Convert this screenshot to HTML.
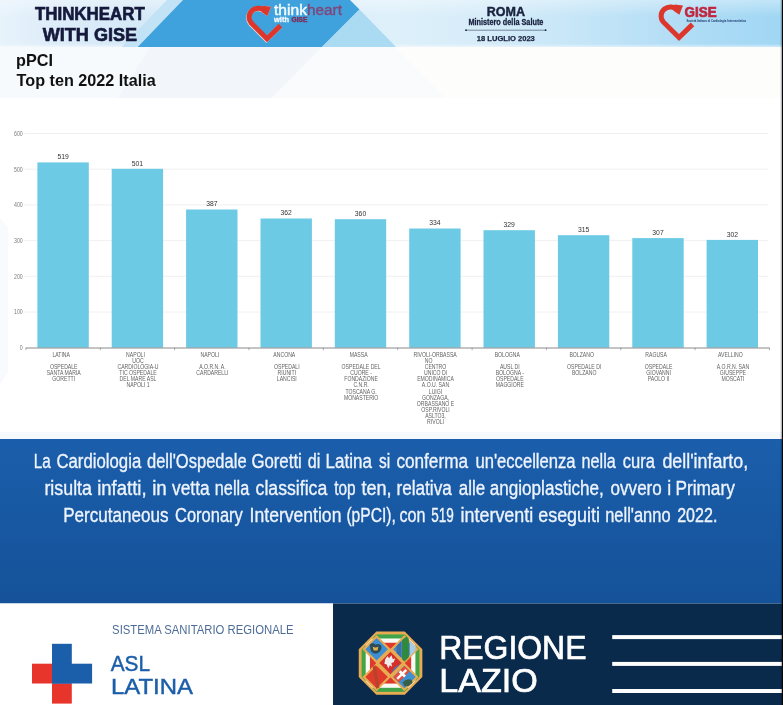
<!DOCTYPE html>
<html lang="it"><head><meta charset="utf-8"><title>pPCI Top ten 2022 Italia</title>
<style>
html,body{margin:0;padding:0;background:#fff;}
body{width:783px;height:705px;overflow:hidden;font-family:"Liberation Sans",sans-serif;}
svg{display:block;}
text{font-family:"Liberation Sans",sans-serif;}
</style></head><body>
<svg width="783" height="705" viewBox="0 0 783 705">
<defs>
<linearGradient id="hdr" x1="0" y1="0" x2="1" y2="0">
<stop offset="0" stop-color="#e8f3fb"/><stop offset="0.06" stop-color="#deedf9"/><stop offset="0.17" stop-color="#d5e9f7"/><stop offset="0.5" stop-color="#def0fa"/><stop offset="0.62" stop-color="#d6ecf9"/><stop offset="0.78" stop-color="#c0e3f7"/><stop offset="0.9" stop-color="#addbf5"/><stop offset="1" stop-color="#a0d7f4"/>
</linearGradient>
<linearGradient id="hdrv" x1="0" y1="0" x2="0" y2="1">
<stop offset="0" stop-color="#ffffff" stop-opacity="0.35"/><stop offset="0.35" stop-color="#ffffff" stop-opacity="0"/><stop offset="0.93" stop-color="#ffffff" stop-opacity="0"/><stop offset="1" stop-color="#ffffff" stop-opacity="0.5"/>
</linearGradient>
<linearGradient id="band" x1="0" y1="0" x2="0" y2="1">
<stop offset="0" stop-color="#1b5eab"/><stop offset="1" stop-color="#155299"/>
</linearGradient>
<clipPath id="oct"><polygon points="376.3,631.5 404.8,631.5 422.4,649.3 422.4,677 404.8,694.8 376.3,694.8 358.7,677 358.7,649.3"/></clipPath>
</defs>
<rect width="783" height="705" fill="#ffffff"/>

<g id="header">
<rect x="0" y="0" width="783" height="47" fill="url(#hdr)"/>
<rect x="0" y="0" width="783" height="47" fill="url(#hdrv)"/>
<polygon points="167,0 183,0 137.7,47 121.7,47" fill="#c2e2f6"/>
<polygon points="183,0 350,0 359.5,9.5 322,47 137.7,47" fill="#3fa2dc"/>
<polygon points="359.5,9.5 396,47 322,47" fill="#abdaf3"/>
<text x="35" y="20.4" font-size="19" font-weight="700" fill="#151a3c" stroke="#151a3c" stroke-width="0.7" textLength="109.7" lengthAdjust="spacingAndGlyphs">THINKHEART</text>
<text x="42.8" y="40.9" font-size="19" font-weight="700" fill="#151a3c" stroke="#151a3c" stroke-width="0.7" textLength="94.2" lengthAdjust="spacingAndGlyphs">WITH GISE</text>
<g transform="translate(240,1.2)"><path transform="translate(-0.5,0.6)" d="M25.6,10.2 A9.2 9 0 1 0 11.3,21.9 L27,37.6 L40.5,24.4" fill="none" stroke="#f3d6d0" stroke-width="5" stroke-linejoin="miter" stroke-linecap="butt"/><polygon points="22.5,4.6 31,5.6 27.4,14.8 21.5,10.8" fill="#f3d6d0"/><path d="M25.6,10.2 A9.2 9 0 1 0 11.3,21.9 L27,37.6 L40.5,24.4" fill="none" stroke="#dc372d" stroke-width="5" stroke-linejoin="miter" stroke-linecap="butt"/><polygon points="22.5,4.6 31,5.6 27.4,14.8 21.5,10.8" fill="#dc372d"/></g>
<text x="274" y="14.6" font-size="14" fill="#f4fbff" stroke="#f4fbff" stroke-width="0.45" textLength="33" lengthAdjust="spacingAndGlyphs">think</text>
<text x="307" y="14.6" font-size="14" fill="#80467a" stroke="#80467a" stroke-width="0.35" textLength="35" lengthAdjust="spacingAndGlyphs">heart</text>
<text x="274" y="22.3" font-size="6.6" font-weight="700" fill="#eef8ff" stroke="#eef8ff" stroke-width="0.3" textLength="15" lengthAdjust="spacingAndGlyphs">with</text>
<text x="291.6" y="22.2" font-size="6.6" font-weight="700" fill="#7c2f5c" stroke="#7c2f5c" stroke-width="0.4" textLength="15.8" lengthAdjust="spacingAndGlyphs">GISE</text>
<text x="486.8" y="15.8" font-size="13" font-weight="700" fill="#19223f" stroke="#19223f" stroke-width="0.45" textLength="38.2" lengthAdjust="spacingAndGlyphs">ROMA</text>
<text x="468.4" y="25" font-size="8.2" font-weight="700" fill="#19223f" stroke="#19223f" stroke-width="0.3" textLength="75" lengthAdjust="spacingAndGlyphs">Ministero della Salute</text>
<line x1="466" y1="30.2" x2="545.6" y2="30.2" stroke="#19223f" stroke-width="0.5"/>
<circle cx="466" cy="30.2" r="0.9" fill="#19223f"/><circle cx="545.6" cy="30.2" r="0.9" fill="#19223f"/>
<text x="476.8" y="41.4" font-size="7.6" font-weight="700" fill="#19223f" stroke="#19223f" stroke-width="0.25" textLength="58" lengthAdjust="spacingAndGlyphs">18 LUGLIO 2023</text>
<g transform="translate(652,0)"><path d="M25.6,10.2 A9.2 9 0 1 0 11.3,21.9 L27,37.6 L40.5,24.4" fill="none" stroke="#dc372d" stroke-width="5" stroke-linejoin="miter" stroke-linecap="butt"/><polygon points="22.5,4.6 31,5.6 27.4,14.8 21.5,10.8" fill="#dc372d"/></g>
<text x="684.6" y="16.6" font-size="14.4" font-weight="700" fill="#c0263f" stroke="#c0263f" stroke-width="0.7" textLength="32" lengthAdjust="spacingAndGlyphs">GISE</text>
<text x="686.4" y="21.8" font-size="3.6" font-weight="700" fill="#1d3a70" textLength="59.8" lengthAdjust="spacingAndGlyphs">Società Italiana di Cardiologia Interventistica</text>
</g>
<g id="title">
<rect x="0" y="47" width="783" height="51" fill="#fdfdfb"/>
<polygon points="0,47 322,47 272,98 0,98" fill="#f7fafd"/>
<polygon points="150,47 322,47 272,98 118,98" fill="#f2f6fb"/>
<polygon points="322,47 395,47 446,98 272,98" fill="#f9fbfd"/>
<text x="16" y="66" font-size="16.2" font-weight="700" fill="#111111">pPCI</text>
<text x="16.6" y="85.8" font-size="16.2" font-weight="700" fill="#111111">Top ten 2022 Italia</text>
</g>
<g id="chart">
<text transform="translate(22.8,350.0) scale(0.82,1)" font-size="6.4" fill="#7a7a7a" text-anchor="end">0</text>
<line x1="24.5" y1="312.0" x2="768" y2="312.0" stroke="#ececec" stroke-width="0.8"/>
<text transform="translate(22.8,314.3) scale(0.82,1)" font-size="6.4" fill="#7a7a7a" text-anchor="end">100</text>
<line x1="24.5" y1="276.3" x2="768" y2="276.3" stroke="#ececec" stroke-width="0.8"/>
<text transform="translate(22.8,278.6) scale(0.82,1)" font-size="6.4" fill="#7a7a7a" text-anchor="end">200</text>
<line x1="24.5" y1="240.6" x2="768" y2="240.6" stroke="#ececec" stroke-width="0.8"/>
<text transform="translate(22.8,242.9) scale(0.82,1)" font-size="6.4" fill="#7a7a7a" text-anchor="end">300</text>
<line x1="24.5" y1="204.9" x2="768" y2="204.9" stroke="#ececec" stroke-width="0.8"/>
<text transform="translate(22.8,207.2) scale(0.82,1)" font-size="6.4" fill="#7a7a7a" text-anchor="end">400</text>
<line x1="24.5" y1="169.2" x2="768" y2="169.2" stroke="#ececec" stroke-width="0.8"/>
<text transform="translate(22.8,171.5) scale(0.82,1)" font-size="6.4" fill="#7a7a7a" text-anchor="end">500</text>
<line x1="24.5" y1="133.5" x2="768" y2="133.5" stroke="#ececec" stroke-width="0.8"/>
<text transform="translate(22.8,135.8) scale(0.82,1)" font-size="6.4" fill="#7a7a7a" text-anchor="end">600</text>
<rect x="37.4" y="162.4" width="51.4" height="185.3" fill="#6ccae5"/>
<text transform="translate(63.1,159.2) scale(0.85,1)" font-size="8" fill="#333333" text-anchor="middle">519</text>
<rect x="111.7" y="168.8" width="51.4" height="178.9" fill="#6ccae5"/>
<text transform="translate(137.4,165.6) scale(0.85,1)" font-size="8" fill="#333333" text-anchor="middle">501</text>
<rect x="186.1" y="209.5" width="51.4" height="138.2" fill="#6ccae5"/>
<text transform="translate(211.8,206.3) scale(0.85,1)" font-size="8" fill="#333333" text-anchor="middle">387</text>
<rect x="260.5" y="218.5" width="51.4" height="129.2" fill="#6ccae5"/>
<text transform="translate(286.2,215.3) scale(0.85,1)" font-size="8" fill="#333333" text-anchor="middle">362</text>
<rect x="334.8" y="219.2" width="51.4" height="128.5" fill="#6ccae5"/>
<text transform="translate(360.5,216.0) scale(0.85,1)" font-size="8" fill="#333333" text-anchor="middle">360</text>
<rect x="409.2" y="228.5" width="51.4" height="119.2" fill="#6ccae5"/>
<text transform="translate(434.9,225.3) scale(0.85,1)" font-size="8" fill="#333333" text-anchor="middle">334</text>
<rect x="483.5" y="230.2" width="51.4" height="117.5" fill="#6ccae5"/>
<text transform="translate(509.2,227.0) scale(0.85,1)" font-size="8" fill="#333333" text-anchor="middle">329</text>
<rect x="557.9" y="235.2" width="51.4" height="112.5" fill="#6ccae5"/>
<text transform="translate(583.6,232.0) scale(0.85,1)" font-size="8" fill="#333333" text-anchor="middle">315</text>
<rect x="632.3" y="238.1" width="51.4" height="109.6" fill="#6ccae5"/>
<text transform="translate(658.0,234.9) scale(0.85,1)" font-size="8" fill="#333333" text-anchor="middle">307</text>
<rect x="706.6" y="239.9" width="51.4" height="107.8" fill="#6ccae5"/>
<text transform="translate(732.3,236.7) scale(0.85,1)" font-size="8" fill="#333333" text-anchor="middle">302</text>
<line x1="25.9" y1="348.0" x2="769.5" y2="348.0" stroke="#8a8a8a" stroke-width="1"/>
<line x1="25.9" y1="347.7" x2="25.9" y2="350.2" stroke="#8a8a8a" stroke-width="0.7"/>
<line x1="100.3" y1="347.7" x2="100.3" y2="350.2" stroke="#8a8a8a" stroke-width="0.7"/>
<line x1="174.6" y1="347.7" x2="174.6" y2="350.2" stroke="#8a8a8a" stroke-width="0.7"/>
<line x1="249.0" y1="347.7" x2="249.0" y2="350.2" stroke="#8a8a8a" stroke-width="0.7"/>
<line x1="323.3" y1="347.7" x2="323.3" y2="350.2" stroke="#8a8a8a" stroke-width="0.7"/>
<line x1="397.7" y1="347.7" x2="397.7" y2="350.2" stroke="#8a8a8a" stroke-width="0.7"/>
<line x1="472.1" y1="347.7" x2="472.1" y2="350.2" stroke="#8a8a8a" stroke-width="0.7"/>
<line x1="546.4" y1="347.7" x2="546.4" y2="350.2" stroke="#8a8a8a" stroke-width="0.7"/>
<line x1="620.8" y1="347.7" x2="620.8" y2="350.2" stroke="#8a8a8a" stroke-width="0.7"/>
<line x1="695.1" y1="347.7" x2="695.1" y2="350.2" stroke="#8a8a8a" stroke-width="0.7"/>
<line x1="769.5" y1="347.7" x2="769.5" y2="350.2" stroke="#8a8a8a" stroke-width="0.7"/>
<text transform="translate(61.2,356.9) scale(0.79,1)" font-size="6.5" fill="#626262" text-anchor="middle">LATINA</text>
<text transform="translate(63.7,369.1) scale(0.79,1)" font-size="6.5" fill="#626262" text-anchor="middle">OSPEDALE</text>
<text transform="translate(63.7,375.2) scale(0.79,1)" font-size="6.5" fill="#626262" text-anchor="middle">SANTA MARIA</text>
<text transform="translate(63.7,381.3) scale(0.79,1)" font-size="6.5" fill="#626262" text-anchor="middle">GORETTI</text>
<text transform="translate(135.5,356.9) scale(0.79,1)" font-size="6.5" fill="#626262" text-anchor="middle">NAPOLI</text>
<text transform="translate(138.0,363.0) scale(0.79,1)" font-size="6.5" fill="#626262" text-anchor="middle">UOC</text>
<text transform="translate(138.0,369.1) scale(0.79,1)" font-size="6.5" fill="#626262" text-anchor="middle">CARDIOLOGIA-U</text>
<text transform="translate(138.0,375.2) scale(0.79,1)" font-size="6.5" fill="#626262" text-anchor="middle">TIC OSPEDALE</text>
<text transform="translate(138.0,381.3) scale(0.79,1)" font-size="6.5" fill="#626262" text-anchor="middle">DEL MARE ASL</text>
<text transform="translate(138.0,387.4) scale(0.79,1)" font-size="6.5" fill="#626262" text-anchor="middle">NAPOLI 1</text>
<text transform="translate(209.9,356.9) scale(0.79,1)" font-size="6.5" fill="#626262" text-anchor="middle">NAPOLI</text>
<text transform="translate(212.4,369.1) scale(0.79,1)" font-size="6.5" fill="#626262" text-anchor="middle">A.O.R.N. A.</text>
<text transform="translate(212.4,375.2) scale(0.79,1)" font-size="6.5" fill="#626262" text-anchor="middle">CARDARELLI</text>
<text transform="translate(284.3,356.9) scale(0.79,1)" font-size="6.5" fill="#626262" text-anchor="middle">ANCONA</text>
<text transform="translate(286.8,369.1) scale(0.79,1)" font-size="6.5" fill="#626262" text-anchor="middle">OSPEDALI</text>
<text transform="translate(286.8,375.2) scale(0.79,1)" font-size="6.5" fill="#626262" text-anchor="middle">RIUNITI</text>
<text transform="translate(286.8,381.3) scale(0.79,1)" font-size="6.5" fill="#626262" text-anchor="middle">LANCISI</text>
<text transform="translate(358.6,356.9) scale(0.79,1)" font-size="6.5" fill="#626262" text-anchor="middle">MASSA</text>
<text transform="translate(361.1,369.1) scale(0.79,1)" font-size="6.5" fill="#626262" text-anchor="middle">OSPEDALE DEL</text>
<text transform="translate(361.1,375.2) scale(0.79,1)" font-size="6.5" fill="#626262" text-anchor="middle">CUORE -</text>
<text transform="translate(361.1,381.3) scale(0.79,1)" font-size="6.5" fill="#626262" text-anchor="middle">FONDAZIONE</text>
<text transform="translate(361.1,387.4) scale(0.79,1)" font-size="6.5" fill="#626262" text-anchor="middle">C.N.R.</text>
<text transform="translate(361.1,393.5) scale(0.79,1)" font-size="6.5" fill="#626262" text-anchor="middle">TOSCANA G.</text>
<text transform="translate(361.1,399.6) scale(0.79,1)" font-size="6.5" fill="#626262" text-anchor="middle">MONASTERIO</text>
<text transform="translate(435.1,356.9) scale(0.79,1)" font-size="6.5" fill="#626262" text-anchor="middle">RIVOLI-ORBASSA</text>
<text transform="translate(428.7,363.0) scale(0.79,1)" font-size="6.5" fill="#626262" text-anchor="middle">NO</text>
<text transform="translate(435.5,369.1) scale(0.79,1)" font-size="6.5" fill="#626262" text-anchor="middle">CENTRO</text>
<text transform="translate(435.5,375.2) scale(0.79,1)" font-size="6.5" fill="#626262" text-anchor="middle">UNICO DI</text>
<text transform="translate(435.5,381.3) scale(0.79,1)" font-size="6.5" fill="#626262" text-anchor="middle">EMODINAMICA</text>
<text transform="translate(435.5,387.4) scale(0.79,1)" font-size="6.5" fill="#626262" text-anchor="middle">A.O.U. SAN</text>
<text transform="translate(435.5,393.5) scale(0.79,1)" font-size="6.5" fill="#626262" text-anchor="middle">LUIGI</text>
<text transform="translate(435.5,399.6) scale(0.79,1)" font-size="6.5" fill="#626262" text-anchor="middle">GONZAGA,</text>
<text transform="translate(435.5,405.7) scale(0.79,1)" font-size="6.5" fill="#626262" text-anchor="middle">ORBASSANO E</text>
<text transform="translate(435.5,411.8) scale(0.79,1)" font-size="6.5" fill="#626262" text-anchor="middle">OSP.RIVOLI</text>
<text transform="translate(435.5,417.9) scale(0.79,1)" font-size="6.5" fill="#626262" text-anchor="middle">ASLTO3,</text>
<text transform="translate(435.5,424.0) scale(0.79,1)" font-size="6.5" fill="#626262" text-anchor="middle">RIVOLI</text>
<text transform="translate(507.3,356.9) scale(0.79,1)" font-size="6.5" fill="#626262" text-anchor="middle">BOLOGNA</text>
<text transform="translate(509.8,369.1) scale(0.79,1)" font-size="6.5" fill="#626262" text-anchor="middle">AUSL DI</text>
<text transform="translate(509.8,375.2) scale(0.79,1)" font-size="6.5" fill="#626262" text-anchor="middle">BOLOGNA -</text>
<text transform="translate(509.8,381.3) scale(0.79,1)" font-size="6.5" fill="#626262" text-anchor="middle">OSPEDALE</text>
<text transform="translate(509.8,387.4) scale(0.79,1)" font-size="6.5" fill="#626262" text-anchor="middle">MAGGIORE</text>
<text transform="translate(581.7,356.9) scale(0.79,1)" font-size="6.5" fill="#626262" text-anchor="middle">BOLZANO</text>
<text transform="translate(584.2,369.1) scale(0.79,1)" font-size="6.5" fill="#626262" text-anchor="middle">OSPEDALE DI</text>
<text transform="translate(584.2,375.2) scale(0.79,1)" font-size="6.5" fill="#626262" text-anchor="middle">BOLZANO</text>
<text transform="translate(656.1,356.9) scale(0.79,1)" font-size="6.5" fill="#626262" text-anchor="middle">RAGUSA</text>
<text transform="translate(658.6,369.1) scale(0.79,1)" font-size="6.5" fill="#626262" text-anchor="middle">OSPEDALE</text>
<text transform="translate(658.6,375.2) scale(0.79,1)" font-size="6.5" fill="#626262" text-anchor="middle">GIOVANNI</text>
<text transform="translate(658.6,381.3) scale(0.79,1)" font-size="6.5" fill="#626262" text-anchor="middle">PAOLO II</text>
<text transform="translate(730.4,356.9) scale(0.79,1)" font-size="6.5" fill="#626262" text-anchor="middle">AVELLINO</text>
<text transform="translate(732.9,369.1) scale(0.79,1)" font-size="6.5" fill="#626262" text-anchor="middle">A.O.R.N. SAN</text>
<text transform="translate(732.9,375.2) scale(0.79,1)" font-size="6.5" fill="#626262" text-anchor="middle">GIUSEPPE</text>
<text transform="translate(732.9,381.3) scale(0.79,1)" font-size="6.5" fill="#626262" text-anchor="middle">MOSCATI</text>
</g>
<g id="band">
<rect x="0" y="432" width="783" height="7" fill="#f6fafe"/>
<polygon points="0,218 8,228 8,372 0,384" fill="#f8fafd"/>
<rect x="0" y="439" width="783" height="164.5" fill="url(#band)"/>
<g id="line1" font-size="20" fill="#eef4fd" stroke="#eef4fd" stroke-width="0.35">
<text x="33.65" y="467.8" textLength="16.97" lengthAdjust="spacingAndGlyphs">La</text>
<text x="56.41" y="467.8" textLength="84.80" lengthAdjust="spacingAndGlyphs">Cardiologia</text>
<text x="146.99" y="467.8" textLength="99.61" lengthAdjust="spacingAndGlyphs">dell'Ospedale</text>
<text x="251.39" y="467.8" textLength="50.41" lengthAdjust="spacingAndGlyphs">Goretti</text>
<text x="307.79" y="467.8" textLength="12.58" lengthAdjust="spacingAndGlyphs">di</text>
<text x="325.60" y="467.8" textLength="46.40" lengthAdjust="spacingAndGlyphs">Latina</text>
<text x="379.01" y="467.8" textLength="11.16" lengthAdjust="spacingAndGlyphs">si</text>
<text x="396.40" y="467.8" textLength="71.61" lengthAdjust="spacingAndGlyphs">conferma</text>
<text x="475.41" y="467.8" textLength="100.20" lengthAdjust="spacingAndGlyphs">un'eccellenza</text>
<text x="581.62" y="467.8" textLength="34.19" lengthAdjust="spacingAndGlyphs">nella</text>
<text x="622.79" y="467.8" textLength="32.23" lengthAdjust="spacingAndGlyphs">cura</text>
<text x="662.40" y="467.8" textLength="85.81" lengthAdjust="spacingAndGlyphs">dell'infarto,</text>
</g>
<g id="line2" font-size="20" fill="#eef4fd" stroke="#eef4fd" stroke-width="0.35">
<text x="44.41" y="494.8" textLength="47.60" lengthAdjust="spacingAndGlyphs">risulta</text>
<text x="97.17" y="494.8" textLength="49.45" lengthAdjust="spacingAndGlyphs">infatti,</text>
<text x="152.20" y="494.8" textLength="14.60" lengthAdjust="spacingAndGlyphs">in</text>
<text x="172.00" y="494.8" textLength="37.62" lengthAdjust="spacingAndGlyphs">vetta</text>
<text x="214.82" y="494.8" textLength="34.40" lengthAdjust="spacingAndGlyphs">nella</text>
<text x="255.61" y="494.8" textLength="71.60" lengthAdjust="spacingAndGlyphs">classifica</text>
<text x="334.18" y="494.8" textLength="21.39" lengthAdjust="spacingAndGlyphs">top</text>
<text x="361.38" y="494.8" textLength="30.18" lengthAdjust="spacingAndGlyphs">ten,</text>
<text x="396.42" y="494.8" textLength="55.39" lengthAdjust="spacingAndGlyphs">relativa</text>
<text x="458.79" y="494.8" textLength="26.40" lengthAdjust="spacingAndGlyphs">alle</text>
<text x="489.80" y="494.8" textLength="114.00" lengthAdjust="spacingAndGlyphs">angioplastiche,</text>
<text x="610.60" y="494.8" textLength="51.19" lengthAdjust="spacingAndGlyphs">ovvero</text>
<text x="667.22" y="494.8" textLength="3.95" lengthAdjust="spacingAndGlyphs">i</text>
<text x="675.40" y="494.8" textLength="59.40" lengthAdjust="spacingAndGlyphs">Primary</text>
</g>
<g id="line3" font-size="20" fill="#eef4fd" stroke="#eef4fd" stroke-width="0.35">
<text x="63.21" y="522.0" textLength="105.20" lengthAdjust="spacingAndGlyphs">Percutaneous</text>
<text x="175.01" y="522.0" textLength="67.79" lengthAdjust="spacingAndGlyphs">Coronary</text>
<text x="249.60" y="522.0" textLength="91.81" lengthAdjust="spacingAndGlyphs">Intervention</text>
<text x="346.38" y="522.0" textLength="49.45" lengthAdjust="spacingAndGlyphs">(pPCI),</text>
<text x="399.38" y="522.0" textLength="26.04" lengthAdjust="spacingAndGlyphs">con</text>
<text x="431.22" y="522.0" textLength="22.59" lengthAdjust="spacingAndGlyphs">519</text>
<text x="460.60" y="522.0" textLength="72.60" lengthAdjust="spacingAndGlyphs">interventi</text>
<text x="538.19" y="522.0" textLength="61.82" lengthAdjust="spacingAndGlyphs">eseguiti</text>
<text x="605.20" y="522.0" textLength="65.41" lengthAdjust="spacingAndGlyphs">nell'anno</text>
<text x="677.19" y="522.0" textLength="40.22" lengthAdjust="spacingAndGlyphs">2022.</text>
</g>
</g>
<g id="footer">
<rect x="0" y="603.5" width="333" height="101.5" fill="#ffffff"/>
<rect x="333" y="603.5" width="450" height="101.5" fill="#0a2a4c"/>
<rect x="32" y="663.7" width="20" height="19.8" fill="#e8352c"/>
<rect x="52" y="683.4" width="19.8" height="20.2" fill="#e8352c"/>
<rect x="52" y="643.8" width="19.8" height="39.7" fill="#1b5ea9"/>
<rect x="52" y="663.7" width="40.1" height="19.8" fill="#1b5ea9"/>
<text x="112.1" y="633.8" font-size="12.5" fill="#4d6c97" textLength="181.5" lengthAdjust="spacingAndGlyphs">SISTEMA SANITARIO REGIONALE</text>
<text x="110.7" y="670.5" font-size="22.3" fill="#1b5ea9" stroke="#1b5ea9" stroke-width="0.45" textLength="39.4" lengthAdjust="spacingAndGlyphs">ASL</text>
<text x="111" y="694.1" font-size="22.3" fill="#1b5ea9" stroke="#1b5ea9" stroke-width="0.45" textLength="82" lengthAdjust="spacingAndGlyphs">LATINA</text>
<g id="emblem" transform="translate(390.5,663.1) scale(0.965) translate(-390.5,-663.1)">
<polygon points="376.3,631.5 404.8,631.5 422.4,649.3 422.4,677 404.8,694.8 376.3,694.8 358.7,677 358.7,649.3" fill="#e9ab52"/>
<g clip-path="url(#oct)">
<rect x="360.6" y="633.4" width="59.9" height="59.5" fill="#3fa548"/>
<rect x="364.8" y="637.6" width="51.5" height="51.1" fill="#fbfbf6"/>
<rect x="369.2" y="642" width="42.7" height="42.3" fill="#de3a2b"/>
<polygon points="362.90000000000003,648.7 376.1,635.5 418.09999999999997,677.5 404.9,690.7" fill="#e9ab52"/>
<polygon points="418.09999999999997,648.7 404.9,635.5 362.90000000000003,677.5 376.1,690.7" fill="#e9ab52"/>
<polygon points="362.9,648.7 376.1,635.5 389.3,648.7 376.1,661.9" fill="#3d8fd3" stroke="#e9ab52" stroke-width="2.2"/>
<polygon points="391.7,648.7 404.9,635.5 418.1,648.7 404.9,661.9" fill="#4a86c4" stroke="#e9ab52" stroke-width="2.2"/>
<polygon points="362.9,677.5 376.1,664.3 389.3,677.5 376.1,690.7" fill="#e03a2a" stroke="#e9ab52" stroke-width="2.2"/>
<polygon points="391.7,677.5 404.9,664.3 418.1,677.5 404.9,690.7" fill="#3f90d0" stroke="#e9ab52" stroke-width="2.2"/>
<polygon points="377.3,663.1 390.5,649.9 403.7,663.1 390.5,676.3" fill="#d5302b" stroke="#e9ab52" stroke-width="2.2"/>
<path d="M369,644 q3,-3 6,0 q3,-2 6,1 q1,5 -4,8 q-5,1 -7,-3 z" fill="#2d4a55"/>
<path d="M372,646 q3,2 6,0 l-1,4 h-4 z" fill="#e0b24e"/>
<polygon points="402.5,639.5 407,635.5 409.5,638 409.5,657 405,661.5 402.5,659" fill="#2f8a3e"/>
<polygon points="410.5,639.5 416.5,646 416.5,650 410.5,656" fill="#a9cbe6"/>
<polygon points="397,645 401.5,640.5 401.5,657.5 397,653" fill="#3b6fa8"/>
<path d="M385,659 l2.4,-3.2 l1.6,2.4 l2.4,-3.2 l1.6,4 l2.4,-0.8 l-1.6,4 l-2.4,0.8 l0.8,4 l-2.4,-1.6 l-1.6,3.2 l-1.6,-4 l-2.4,-0.8 z" fill="#ececec"/>
<polygon points="394.5,668 401.5,663.1 390.5,674.3" fill="#3c7fc2"/>
<polygon points="372,667 375,665 379,688 376,690" fill="#b5442b"/>
<polygon points="393.5,677.5 404.9,666 410.5,671.6 399.1,683" fill="#e8493a"/>
<polygon points="396.5,678.6 406,669.1 407.8,670.9 398.3,680.4" fill="#ffffff"/>
<polygon points="399,672.5 401,670.5 406.5,676 404.5,678" fill="#ffffff"/>
<path d="M403,683 q4,-4 8,-3 q3,1 2,4 q-4,4 -8,3 z" fill="#37604a"/>
</g>
<polygon points="376.3,631.5 404.8,631.5 422.4,649.3 422.4,677 404.8,694.8 376.3,694.8 358.7,677 358.7,649.3" fill="none" stroke="#e9ab52" stroke-width="2.2"/>
</g>
<text x="439.2" y="658.8" font-size="33.5" fill="#ffffff" stroke="#ffffff" stroke-width="0.7" textLength="147.3" lengthAdjust="spacingAndGlyphs">REGIONE</text>
<text x="439.2" y="691.6" font-size="33.5" fill="#ffffff" stroke="#ffffff" stroke-width="0.7" textLength="98.5" lengthAdjust="spacingAndGlyphs">LAZIO</text>
<rect x="612.2" y="635.1" width="169.8" height="4" fill="#ffffff"/>
<rect x="612.2" y="661.9" width="169.8" height="4" fill="#ffffff"/>
<rect x="612.2" y="689.0" width="169.8" height="4" fill="#ffffff"/>
</g>
<rect x="782" y="0" width="1" height="705" fill="#05070a"/>
<rect x="781" y="0" width="1" height="705" fill="#000" opacity="0.28"/>
<rect x="780" y="0" width="1" height="705" fill="#000" opacity="0.08"/>
</svg></body></html>
